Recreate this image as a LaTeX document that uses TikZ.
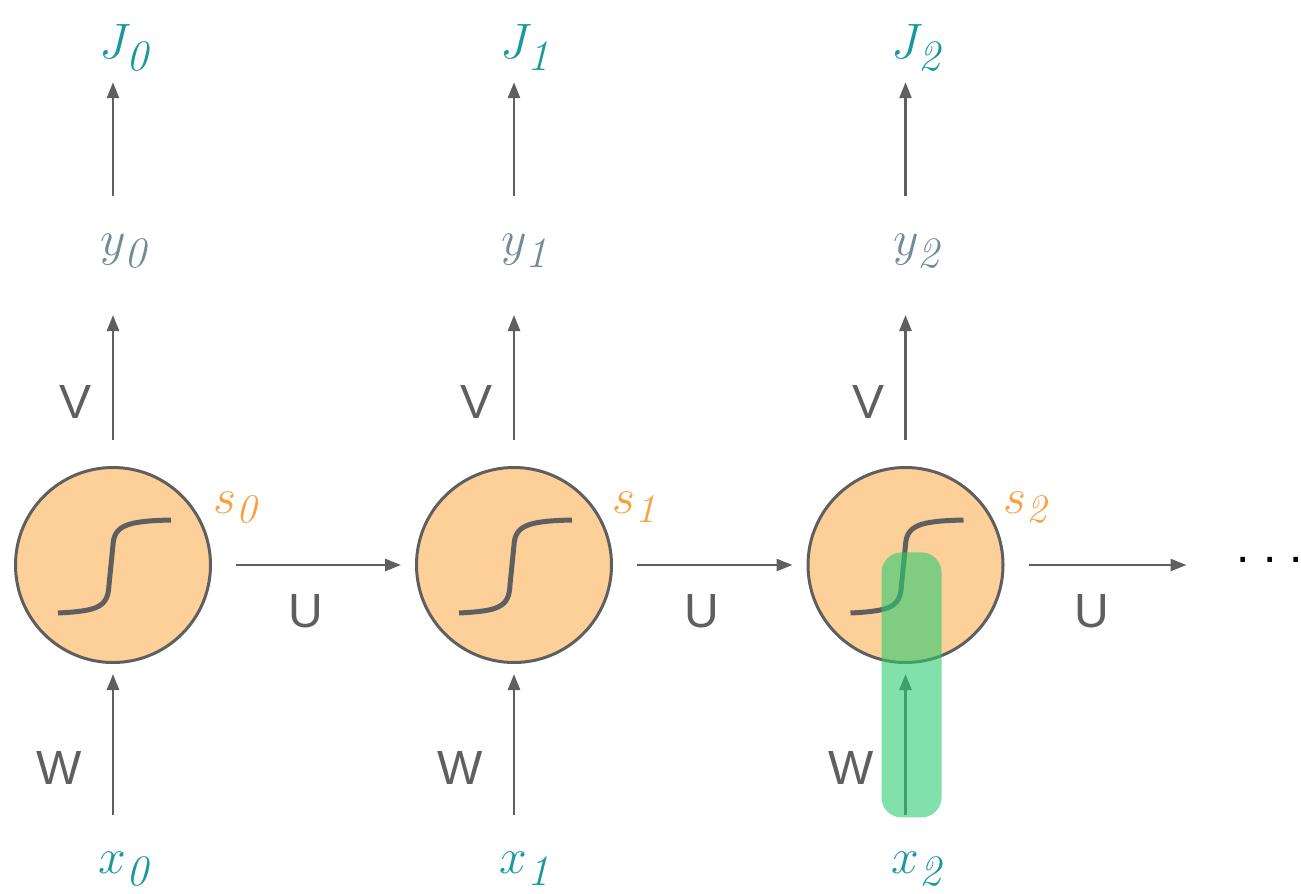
\documentclass[tikz,border=0pt]{standalone}
\usepackage{fontspec}
\usepackage{xcolor}
\usepackage{tikz}
\usetikzlibrary{arrows.meta,positioning}

\newfontfamily\labelfont{Liberation Sans}
\definecolor{cellfill}{RGB}{253,208,154}
\definecolor{edgegray}{RGB}{95,95,95}
\definecolor{tealtext}{RGB}{26,152,160}
\definecolor{slatetext}{RGB}{112,140,152}
\definecolor{statetext}{RGB}{247,160,60}
\definecolor{hlgreen}{RGB}{46,204,113}

\begin{document}
\begin{tikzpicture}[
    x=0.5pt,y=-0.5pt,
    >={Triangle[length=8pt,width=6pt]},
    flow/.style={->,line width=1.25pt,draw=edgegray,fill=edgegray},
    cell/.style={circle,draw=edgegray,fill=cellfill,line width=1.5pt,
      minimum size=97.5pt,inner sep=0pt},
    sig/.style={draw=edgegray,line width=2.5pt},
    mathlab/.style={inner sep=0pt,text height=20pt,text depth=8pt,
      font=\fontsize{31}{35}\selectfont},
    inlab/.style={mathlab,text=tealtext},
    outlab/.style={mathlab,text=slatetext},
    slab/.style={inner sep=0pt,anchor=base west,text=statetext,
      font=\fontsize{29}{33}\selectfont},
    wlab/.style={inner sep=0pt,text=edgegray,font=\labelfont\fontsize{24}{28}\selectfont},
    dotslab/.style={inner sep=0pt,text=black,font=\labelfont\fontsize{24}{28}\selectfont},
    hilite/.style={fill=hlgreen,fill opacity=0.6,rounded corners=10pt,
      minimum width=30pt,minimum height=132.5pt,inner sep=0pt}
  ]
    \useasboundingbox (0,0) rectangle (1301,894);
    % cells
    \node[cell] (s0) at (113,565) {};
    \node[cell,right=101.5pt of s0] (s1) {};
    \node[cell,right=96.75pt of s1] (s2) {};
    \draw[sig,shift={(s0.center)}] (-55,48) .. controls (-15,46) and (-5,42) .. (-4,20)
      -- (0,-20) .. controls (1,-40) and (15,-44) .. (58,-45);
    \draw[sig,shift={(s1.center)}] (-55,48) .. controls (-15,46) and (-5,42) .. (-4,20)
      -- (0,-20) .. controls (1,-40) and (15,-44) .. (58,-45);
    \draw[sig,shift={(s2.center)}] (-55,48) .. controls (-15,46) and (-5,42) .. (-4,20)
      -- (0,-20) .. controls (1,-40) and (15,-44) .. (58,-45);
    \node[slab] (l0) at ([shift={(50pt,26pt)}]s0.center) {$s_{\mathit{0}}$};
    \node[slab] (l1) at ([shift={(49pt,26pt)}]s1.center) {$s_{\mathit{1}}$};
    \node[slab] (l2) at ([shift={(49pt,26pt)}]s2.center) {$s_{\mathit{2}}$};
    % labels above and below
    \node[outlab,above=97pt of s0,xshift=5.5pt] (y0) {$y_{\mathit{0}}$};
    \node[outlab,above=97pt of s1,xshift=5.5pt] (y1) {$y_{\mathit{1}}$};
    \node[outlab,above=97pt of s2,xshift=5.5pt] (y2) {$y_{\mathit{2}}$};
    \node[inlab,above=70pt of y0] (J0) {$J_{\mathit{0}}$};
    \node[inlab,above=70pt of y1] (J1) {$J_{\mathit{1}}$};
    \node[inlab,above=70pt of y2] (J2) {$J_{\mathit{2}}$};
    \node[inlab,below=84.5pt of s0,xshift=5.5pt] (x0) {$x_{\mathit{0}}$};
    \node[inlab,below=84.5pt of s1,xshift=5.5pt] (x1) {$x_{\mathit{1}}$};
    \node[inlab,below=84.5pt of s2,xshift=5.5pt] (x2) {$x_{\mathit{2}}$};
    % V arrows
    \draw[flow,shorten <=13pt,shorten >=21.5pt] (s0) -- (s0 |- y0.south)
      node[wlab,pos=0.33,left=10pt] (v0) {V};
    \draw[flow,shorten <=13pt,shorten >=21.5pt] (s1) -- (s1 |- y1.south)
      node[wlab,pos=0.33,left=10pt] (v1) {V};
    \draw[flow,shorten <=13pt,shorten >=21.5pt] (s2) -- (s2 |- y2.south)
      node[wlab,pos=0.33,left=10pt] (v2) {V};
    % output arrows
    \draw[flow,shorten <=9.5pt,shorten >=3.5pt] (y0.north -| s0) -- (J0.south -| s0);
    \draw[flow,shorten <=9.5pt,shorten >=3.5pt] (y1.north -| s1) -- (J1.south -| s1);
    \draw[flow,shorten <=9.5pt,shorten >=3.5pt] (y2.north -| s2) -- (J2.south -| s2);
    % W arrows
    \draw[flow,shorten <=9pt,shorten >=5pt] (x0.north -| s0) -- (s0)
      node[wlab,pos=0.385,left=15pt] (w0) {W};
    \draw[flow,shorten <=9pt,shorten >=5pt] (x1.north -| s1) -- (s1)
      node[wlab,pos=0.385,left=15pt] (w1) {W};
    \draw[flow,shorten <=9pt,shorten >=5pt] (x2.north -| s2) -- (s2)
      node[wlab,pos=0.385,left=15pt] (w2) {W};
    % U arrows
    \coordinate[right=91pt of s2] (uend);
    \draw[flow,shorten <=12pt,shorten >=7pt] (s0) -- (s1)
      node[wlab,midway,below=14pt,xshift=-4pt] (u0) {U};
    \draw[flow,shorten <=12pt,shorten >=7pt] (s1) -- (s2)
      node[wlab,midway,below=14pt,xshift=-4pt] (u1) {U};
    \draw[flow,shorten <=12pt] (s2) -- (uend)
      node[wlab,midway,below=14pt,xshift=-2pt] (u2) {U};
    \node[dotslab,anchor=base west] (dots) at (1236,562) {.\ .\ .};
    % highlight
    \node[hilite,anchor=north] (hl) at ([xshift=3pt,yshift=6.5pt]s2.center) {};
\end{tikzpicture}
\end{document}
